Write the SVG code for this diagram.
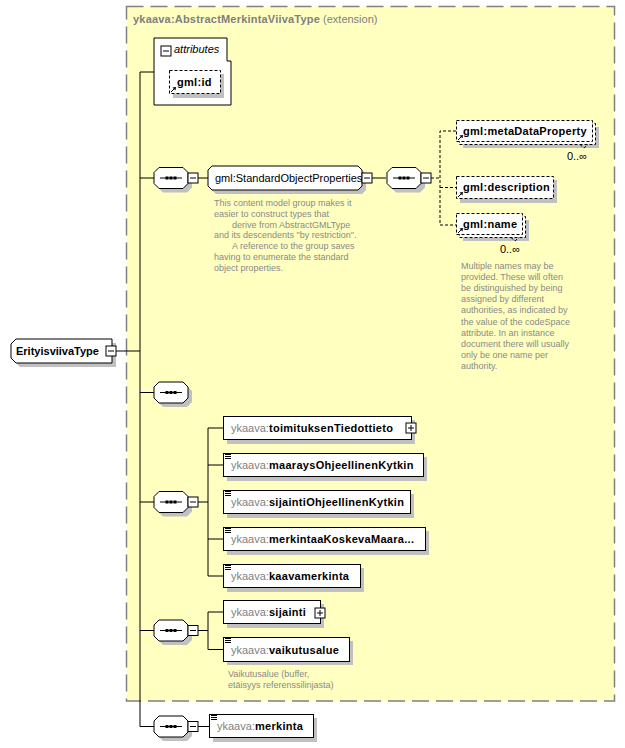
<svg xmlns="http://www.w3.org/2000/svg" width="625" height="748" viewBox="0 0 625 748">
<style>
text{font-family:"Liberation Sans",Arial,sans-serif;font-size:11px;fill:#000}
.b{font-weight:bold}
.e{font-weight:bold;letter-spacing:0.3px}
.g{fill:#808080}
.ann{font-size:9px;fill:#8a8a8a}
.box{fill:#fff;stroke:#000;stroke-width:1}
.dbox{fill:#fff;stroke:#000;stroke-width:1;stroke-dasharray:3,2}
.sh{fill:#c0c0c0}
.ln{stroke:#000;stroke-width:1;fill:none}
.dln{stroke:#000;stroke-width:1;fill:none;stroke-dasharray:3,2}
.dot{fill:#000}
</style>
<defs>
<g id="seq">
<path class="sh" d="M9,-6.5 H33 L38,-1.5 V9.5 L33,14.5 H9 L4,9.5 V-1.5 Z"/>
<path class="box" d="M5,-10.5 H29 L34,-5.5 V5.5 L29,10.5 H5 L0,5.5 V-5.5 Z"/>
<line class="ln" x1="6" y1="0" x2="28" y2="0"/>
<rect class="dot" x="11.5" y="-1.5" width="3" height="3"/>
<rect class="dot" x="15.5" y="-1.5" width="3" height="3"/>
<rect class="dot" x="19.5" y="-1.5" width="3" height="3"/>
</g>
<g id="minus">
<rect class="box" x="0" y="0" width="10" height="10"/>
<line class="ln" x1="2" y1="5" x2="8" y2="5"/>
</g>
<g id="plus">
<rect class="box" x="0" y="0" width="10" height="10"/>
<line class="ln" x1="2" y1="5" x2="8" y2="5"/>
<line class="ln" x1="5" y1="2" x2="5" y2="8"/>
</g>
<g id="ref">
<path class="ln" d="M1,-1 L5,-5"/>
<path class="dot" d="M6,-6 L2.5,-5.5 L5.5,-2.5 Z"/>
</g>
<g id="simple">
<line class="ln" x1="0" y1="0.5" x2="6" y2="0.5"/>
<line class="ln" x1="0" y1="2.5" x2="6" y2="2.5"/>
<line class="ln" x1="0" y1="4.5" x2="6" y2="4.5"/>
</g>
</defs>

<g id="extension">
<rect x="126.5" y="6.5" width="488" height="694.5" fill="#ffffc0" stroke="#808080" stroke-width="1.5" stroke-dasharray="17,7"/>
<text x="133" y="23"><tspan class="b g" letter-spacing="0.2">ykaava:AbstractMerkintaViivaType</tspan><tspan class="g"> (extension)</tspan></text>
</g>

<g id="connectors">
<line class="ln" x1="116" y1="351" x2="140" y2="351"/>
<line class="ln" x1="140" y1="72" x2="140" y2="726.5"/>
<line class="ln" x1="140" y1="72" x2="154" y2="72"/>
<line class="ln" x1="140" y1="178" x2="154" y2="178"/>
<line class="ln" x1="140" y1="392.5" x2="154" y2="392.5"/>
<line class="ln" x1="140" y1="502" x2="154" y2="502"/>
<line class="ln" x1="140" y1="630.5" x2="154" y2="630.5"/>
<line class="ln" x1="140" y1="726.5" x2="154" y2="726.5"/>
<line class="ln" x1="198" y1="178" x2="208" y2="178"/>
<line class="ln" x1="372" y1="178" x2="386" y2="178"/>
<path class="dln" d="M431,178 H440 M456,131 H440 V225 H456 M440,187.5 H456"/>
<path class="ln" d="M198,502 H208 M223,428 H208 V576 H223 M208,465 H223 M208,539 H223"/>
<path class="ln" d="M198,630.5 H208 M223,612 H208 V649.5 H223"/>
<line class="ln" x1="198" y1="726.5" x2="209" y2="726.5"/>
</g>

<g id="ErityisviivaType">
<path class="sh" d="M20,343 H116 V367 H20 L15,362 V348 Z"/>
<path class="box" d="M16,339 H112 V363 H16 L11,358 V344 Z"/>
<text class="b" x="16" y="355">ErityisviivaType</text>
<use href="#minus" x="106" y="346"/>
</g>

<g id="attributes">
<path class="box" d="M154,38 H227 V61 H231 V105 H154 Z"/>
<use href="#minus" x="161" y="46"/>
<text x="174" y="53" font-style="italic">attributes</text>
<g id="gml-id">
<rect class="sh" x="173" y="74" width="51" height="24"/>
<rect class="dbox" x="169.5" y="70.5" width="51" height="23"/>
<use href="#ref" x="170" y="93"/>
<text class="e" x="177" y="86">gml:id</text>
</g>
</g>

<g id="seq1">
<use href="#seq" x="154" y="178"/>
<use href="#minus" x="188" y="173"/>
</g>

<g id="StandardObjectProperties">
<path class="sh" d="M216,170 H362 L366,174 V190 L362,194 H216 L212,190 V174 Z"/>
<path class="box" d="M212,166 H358 L362,170 V186 L358,190 H212 L208,186 V170 Z"/>
<text x="215" y="182" font-size="10.4">gml:StandardObjectProperties</text>
<use href="#minus" x="362" y="173"/>
<text class="ann" x="214" y="206">This content model group makes it</text>
<text class="ann" x="214" y="216.8">easier to construct types that</text>
<text class="ann" x="232" y="227.6">derive from AbstractGMLType</text>
<text class="ann" x="214" y="238.4">and its descendents "by restriction".</text>
<text class="ann" x="232" y="249.2">A reference to the group saves</text>
<text class="ann" x="214" y="260">having to enumerate the standard</text>
<text class="ann" x="214" y="270.8">object properties.</text>
</g>

<g id="seq2">
<use href="#seq" x="387" y="178"/>
<use href="#minus" x="421" y="173"/>
</g>

<g id="metaDataProperty">
<rect class="sh" x="463" y="127" width="136" height="21"/>
<rect class="dbox" x="459.5" y="123.5" width="136" height="21"/>
<rect class="dbox" x="456.5" y="120.5" width="136" height="21"/>
<use href="#ref" x="457" y="141"/>
<text class="e" x="463" y="135">gml:metaDataProperty</text>
<path class="dln" d="M580,144.5 L584,148 L588,144.5"/>
<text x="587" y="160" text-anchor="end" font-size="10">0..∞</text>
</g>

<g id="description">
<rect class="sh" x="460" y="180" width="97" height="23"/>
<rect class="dbox" x="456.5" y="176.5" width="97" height="22"/>
<use href="#ref" x="457" y="198"/>
<text class="e" x="463" y="191">gml:description</text>
</g>

<g id="name">
<rect class="sh" x="463" y="220" width="66" height="21"/>
<rect class="dbox" x="459.5" y="216.5" width="66" height="21"/>
<rect class="dbox" x="456.5" y="213.5" width="66" height="21"/>
<use href="#ref" x="457" y="234"/>
<text class="e" x="463" y="228">gml:name</text>
<path class="dln" d="M511,237.5 L515,241 L519,237.5"/>
<text x="520" y="253" text-anchor="end" font-size="10">0..∞</text>
<text class="ann" x="461" y="269">Multiple names may be</text>
<text class="ann" x="461" y="280.1">provided.  These will often</text>
<text class="ann" x="461" y="291.2">be distinguished by being</text>
<text class="ann" x="461" y="302.3">assigned by different</text>
<text class="ann" x="461" y="313.4">authorities, as indicated by</text>
<text class="ann" x="461" y="324.5">the value of the codeSpace</text>
<text class="ann" x="461" y="335.6">attribute.  In an instance</text>
<text class="ann" x="461" y="346.7">document there will usually</text>
<text class="ann" x="461" y="357.8">only be one name per</text>
<text class="ann" x="461" y="368.9">authority.</text>
</g>

<g id="seq3">
<use href="#seq" x="154" y="392.5"/>
</g>

<g id="seq4">
<use href="#seq" x="154" y="502"/>
<use href="#minus" x="188" y="497"/>
</g>

<g id="toimituksenTiedottieto">
<rect class="sh" x="227" y="420" width="188" height="24"/>
<rect class="box" x="223.5" y="416.5" width="188" height="23"/>
<text x="231" y="432"><tspan class="g">ykaava:</tspan><tspan class="e">toimituksenTiedottieto</tspan></text>
<use href="#plus" x="406" y="423"/>
</g>

<g id="maaraysOhjeellinenKytkin">
<rect class="sh" x="227" y="457" width="200" height="24"/>
<rect class="box" x="223.5" y="453.5" width="200" height="23"/>
<use href="#simple" x="225" y="454"/>
<text x="231" y="469"><tspan class="g">ykaava:</tspan><tspan class="e">maaraysOhjeellinenKytkin</tspan></text>
</g>

<g id="sijaintiOhjeellinenKytkin">
<rect class="sh" x="227" y="494" width="187" height="24"/>
<rect class="box" x="223.5" y="490.5" width="187" height="23"/>
<use href="#simple" x="225" y="491"/>
<text x="231" y="506"><tspan class="g">ykaava:</tspan><tspan class="e">sijaintiOhjeellinenKytkin</tspan></text>
</g>

<g id="merkintaaKoskevaMaara">
<rect class="sh" x="227" y="531" width="202" height="24"/>
<rect class="box" x="223.5" y="527.5" width="202" height="23"/>
<use href="#simple" x="225" y="528"/>
<text x="231" y="543"><tspan class="g">ykaava:</tspan><tspan class="e">merkintaaKoskevaMaara...</tspan></text>
</g>

<g id="kaavamerkinta">
<rect class="sh" x="227" y="568" width="137" height="24"/>
<rect class="box" x="223.5" y="564.5" width="137" height="23"/>
<use href="#simple" x="225" y="565"/>
<text x="231" y="580"><tspan class="g">ykaava:</tspan><tspan class="e">kaavamerkinta</tspan></text>
</g>

<g id="seq5">
<use href="#seq" x="154" y="630.5"/>
<use href="#minus" x="188" y="625.5"/>
</g>

<g id="sijainti">
<rect class="sh" x="227" y="604" width="97" height="24"/>
<rect class="box" x="223.5" y="600.5" width="97" height="23"/>
<text x="231" y="616"><tspan class="g">ykaava:</tspan><tspan class="e">sijainti</tspan></text>
<use href="#plus" x="315" y="608"/>
</g>

<g id="vaikutusalue">
<rect class="sh" x="227" y="641" width="126" height="24"/>
<rect class="box" x="223.5" y="637.5" width="126" height="24"/>
<use href="#simple" x="225" y="638"/>
<text x="231" y="654"><tspan class="g">ykaava:</tspan><tspan class="e">vaikutusalue</tspan></text>
<text class="ann" x="228" y="677">Vaikutusalue (buffer,</text>
<text class="ann" x="228" y="688">etäisyys referenssilinjasta)</text>
</g>

<g id="seq6">
<use href="#seq" x="154" y="726.5"/>
<use href="#minus" x="188" y="721.5"/>
</g>

<g id="merkinta">
<rect class="sh" x="213" y="718" width="104" height="24"/>
<rect class="box" x="209.5" y="714.5" width="104" height="23"/>
<use href="#simple" x="211" y="715"/>
<text x="217" y="730"><tspan class="g">ykaava:</tspan><tspan class="e">merkinta</tspan></text>
</g>
</svg>
